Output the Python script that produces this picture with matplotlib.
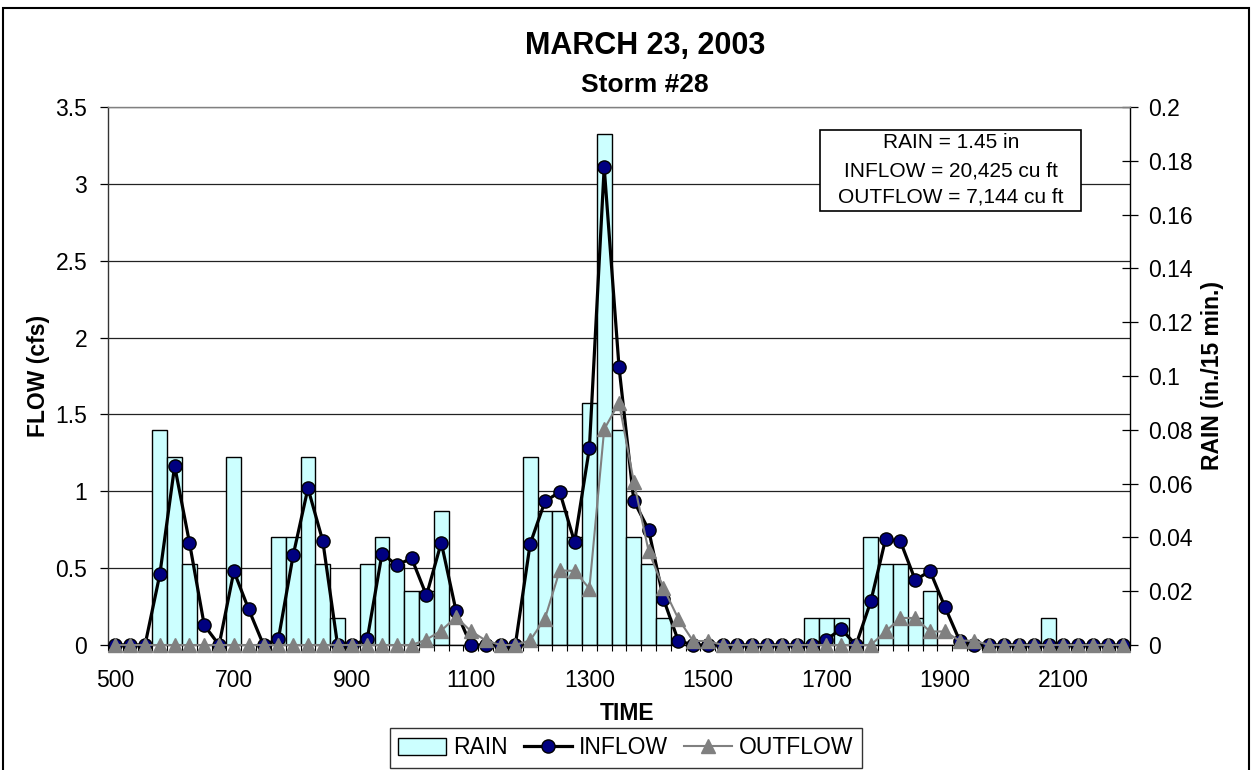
import matplotlib.pyplot as plt
from matplotlib.lines import Line2D
from matplotlib.patches import Patch, Rectangle
import numpy as np

plt.rcParams['font.family'] = ['Liberation Sans', 'DejaVu Sans']

# 15 minute readings, time axis as plotted (categories)
time = [500, 525, 550, 575, 600, 625, 650, 675, 700, 725, 750, 775, 800, 825,
        850, 875, 900, 925, 950, 975, 1000, 1025, 1050, 1075, 1100, 1125, 1150,
        1175, 1200, 1225, 1250, 1275, 1300, 1325, 1350, 1375, 1400, 1425, 1450,
        1475, 1500, 1525, 1550, 1575, 1600, 1625, 1650, 1675, 1700, 1725, 1750,
        1775, 1800, 1825, 1850, 1875, 1900, 1925, 1950, 1975, 2000, 2025, 2050,
        2075, 2100, 2125, 2150, 2175, 2200]

# rain, in. per 15 min
rain = [0, 0, 0, 0.08, 0.07, 0.03, 0, 0, 0.07, 0, 0, 0.04, 0.04, 0.07,
        0.03, 0.01, 0, 0.03, 0.04, 0.03, 0.02, 0.02, 0.05, 0, 0, 0, 0,
        0, 0.07, 0.05, 0.05, 0.04, 0.09, 0.19, 0.08, 0.04, 0.03, 0.01, 0,
        0, 0, 0, 0, 0, 0, 0, 0, 0.01, 0.01, 0.01, 0,
        0.04, 0.03, 0.03, 0.01, 0.02, 0, 0, 0, 0, 0, 0, 0,
        0.01, 0, 0, 0, 0, 0]

# inflow, cfs
inflow = [0, 0, 0, 0.46, 1.165, 0.666, 0.128, 0, 0.48, 0.232, 0, 0.037, 0.583, 1.02,
          0.677, 0, 0, 0.037, 0.594, 0.52, 0.564, 0.323, 0.666, 0.221, 0, 0, 0,
          0, 0.657, 0.934, 0.996, 0.669, 1.28, 3.108, 1.81, 0.938, 0.749, 0.30, 0.028,
          0, 0, 0, 0, 0, 0, 0, 0, 0, 0.035, 0.104, 0,
          0.284, 0.69, 0.674, 0.423, 0.481, 0.249, 0.028, 0, 0, 0, 0, 0,
          0, 0, 0, 0, 0, 0]

# outflow, cfs
outflow = [0, 0, 0, 0, 0, 0, 0, 0, 0, 0, 0, 0, 0, 0,
           0, 0, 0, 0, 0, 0, 0, 0.035, 0.094, 0.182, 0.09, 0.03, 0,
           0, 0.03, 0.172, 0.485, 0.482, 0.367, 1.403, 1.577, 1.062, 0.61, 0.372, 0.172,
           0.026, 0.026, 0, 0, 0, 0, 0, 0, 0, 0, 0, 0,
           0, 0.088, 0.176, 0.176, 0.088, 0.088, 0.028, 0.028, 0, 0, 0, 0,
           0, 0, 0, 0, 0, 0]

flow_ticks = [0, 0.5, 1, 1.5, 2, 2.5, 3, 3.5]
rain_ticks = [0, 0.02, 0.04, 0.06, 0.08, 0.1, 0.12, 0.14, 0.16, 0.18, 0.2]

W, H = 1252, 770
fig = plt.figure(figsize=(W / 100, H / 100), dpi=100)


def px(x, y):
    # pixel position -> figure fraction
    return x / W, 1 - y / H


left, right, top, bottom = 108, 1130, 107, 645
ax = fig.add_axes([left / W, 1 - bottom / H, (right - left) / W, (bottom - top) / H])
ax2 = ax.twinx()
ax.set_zorder(ax2.get_zorder() + 1)
ax.patch.set_visible(False)

x = np.arange(len(time))
flow_max, rain_max = 3.5, 0.2

# gridlines behind the bars (drawn on the rain axis)
for v in flow_ticks[1:]:
    ax2.axhline(v / flow_max * rain_max, color='#222222', lw=0.9, zorder=0)

ax2.bar(x, rain, width=1.0, color='#CCFFFF', edgecolor='black', linewidth=1.0, zorder=2)

ax.plot(x, inflow, color='black', lw=2.3, marker='o', ms=9.5, mfc='#000080',
        mec='black', mew=1.0, zorder=3, clip_on=False)
ax.plot(x, outflow, color='#808080', lw=1.5, marker='^', ms=10, mfc='#808080',
        mec='#808080', zorder=4, clip_on=False)

ax.set_xlim(-0.5, len(time) - 0.5)
ax.set_ylim(0, flow_max)
ax2.set_ylim(0, rain_max)

ax.set_xticks(x[::8])
ax.set_xticklabels([str(t) for t in time[::8]])
ax.set_xticks(np.arange(-0.5, len(time), 1), minor=True)
ax.tick_params(axis='x', which='major', length=0, pad=17, labelsize=16.5)
ax.tick_params(axis='x', which='minor', length=4, width=0.8, direction='out')

ax.set_yticks(flow_ticks)
ax.set_yticklabels([f'{v:g}' for v in flow_ticks])
ax.tick_params(axis='y', direction='out', length=6, width=0.9, pad=9, labelsize=16.5)

ax2.set_yticks(rain_ticks)
ax2.set_yticklabels([f'{v:g}' for v in rain_ticks])
ax2.tick_params(axis='y', direction='inout', length=12, width=0.9, pad=7, labelsize=16.5)

for s in ['top', 'bottom', 'left', 'right']:
    ax2.spines[s].set_visible(False)
ax.spines['top'].set_color('#808080')
ax.spines['left'].set_color('#333333')
ax.spines['right'].set_color('black')
ax.spines['bottom'].set_color('black')
for s in ax.spines.values():
    s.set_linewidth(1.0)

# titles and axis labels
fig.text(*px(645, 46), 'MARCH 23, 2003', ha='center', va='center',
         fontsize=22, fontweight='bold')
fig.text(*px(645, 85), 'Storm #28', ha='center', va='center',
         fontsize=19, fontweight='bold')
fig.text(*px(627, 714), 'TIME', ha='center', va='center', fontsize=16.5, fontweight='bold')
fig.text(*px(38, 376), 'FLOW (cfs)', ha='center', va='center', rotation=90,
         fontsize=16.5, fontweight='bold')
fig.text(*px(1212, 376), 'RAIN (in./15 min.)', ha='center', va='center', rotation=90,
         fontsize=16.5, fontweight='bold')

# summary box
fig.patches.append(Rectangle(px(820, 211), 261 / W, 81 / H, transform=fig.transFigure,
                             facecolor='white', edgecolor='black', lw=1.2, zorder=5))
for yy, s in [(143, 'RAIN = 1.45 in'), (171, 'INFLOW = 20,425 cu ft'),
              (197, 'OUTFLOW = 7,144 cu ft')]:
    fig.text(*px(951, yy), s, ha='center', va='center', fontsize=15, zorder=6)

# outer chart border
fig.patches.append(Rectangle(px(3, 800), 1246 / W, 792 / H, transform=fig.transFigure,
                             facecolor='none', edgecolor='black', lw=1.5))

handles = [Patch(facecolor='#CCFFFF', edgecolor='black', lw=1.0),
           Line2D([], [], color='black', lw=2.3, marker='o', ms=9.5, mfc='#000080', mec='black'),
           Line2D([], [], color='#808080', lw=1.5, marker='^', ms=10, mfc='#808080', mec='#808080')]
leg = fig.legend(handles, ['RAIN', 'INFLOW', 'OUTFLOW'], loc='center',
                 bbox_to_anchor=px(626, 748), ncol=3, fontsize=16.5, frameon=True,
                 fancybox=False, edgecolor='black', handlelength=2.1, handletextpad=0.3,
                 columnspacing=0.7, borderpad=0.35)
leg.get_frame().set_linewidth(1.0)

plt.savefig('out.png', dpi=100)
